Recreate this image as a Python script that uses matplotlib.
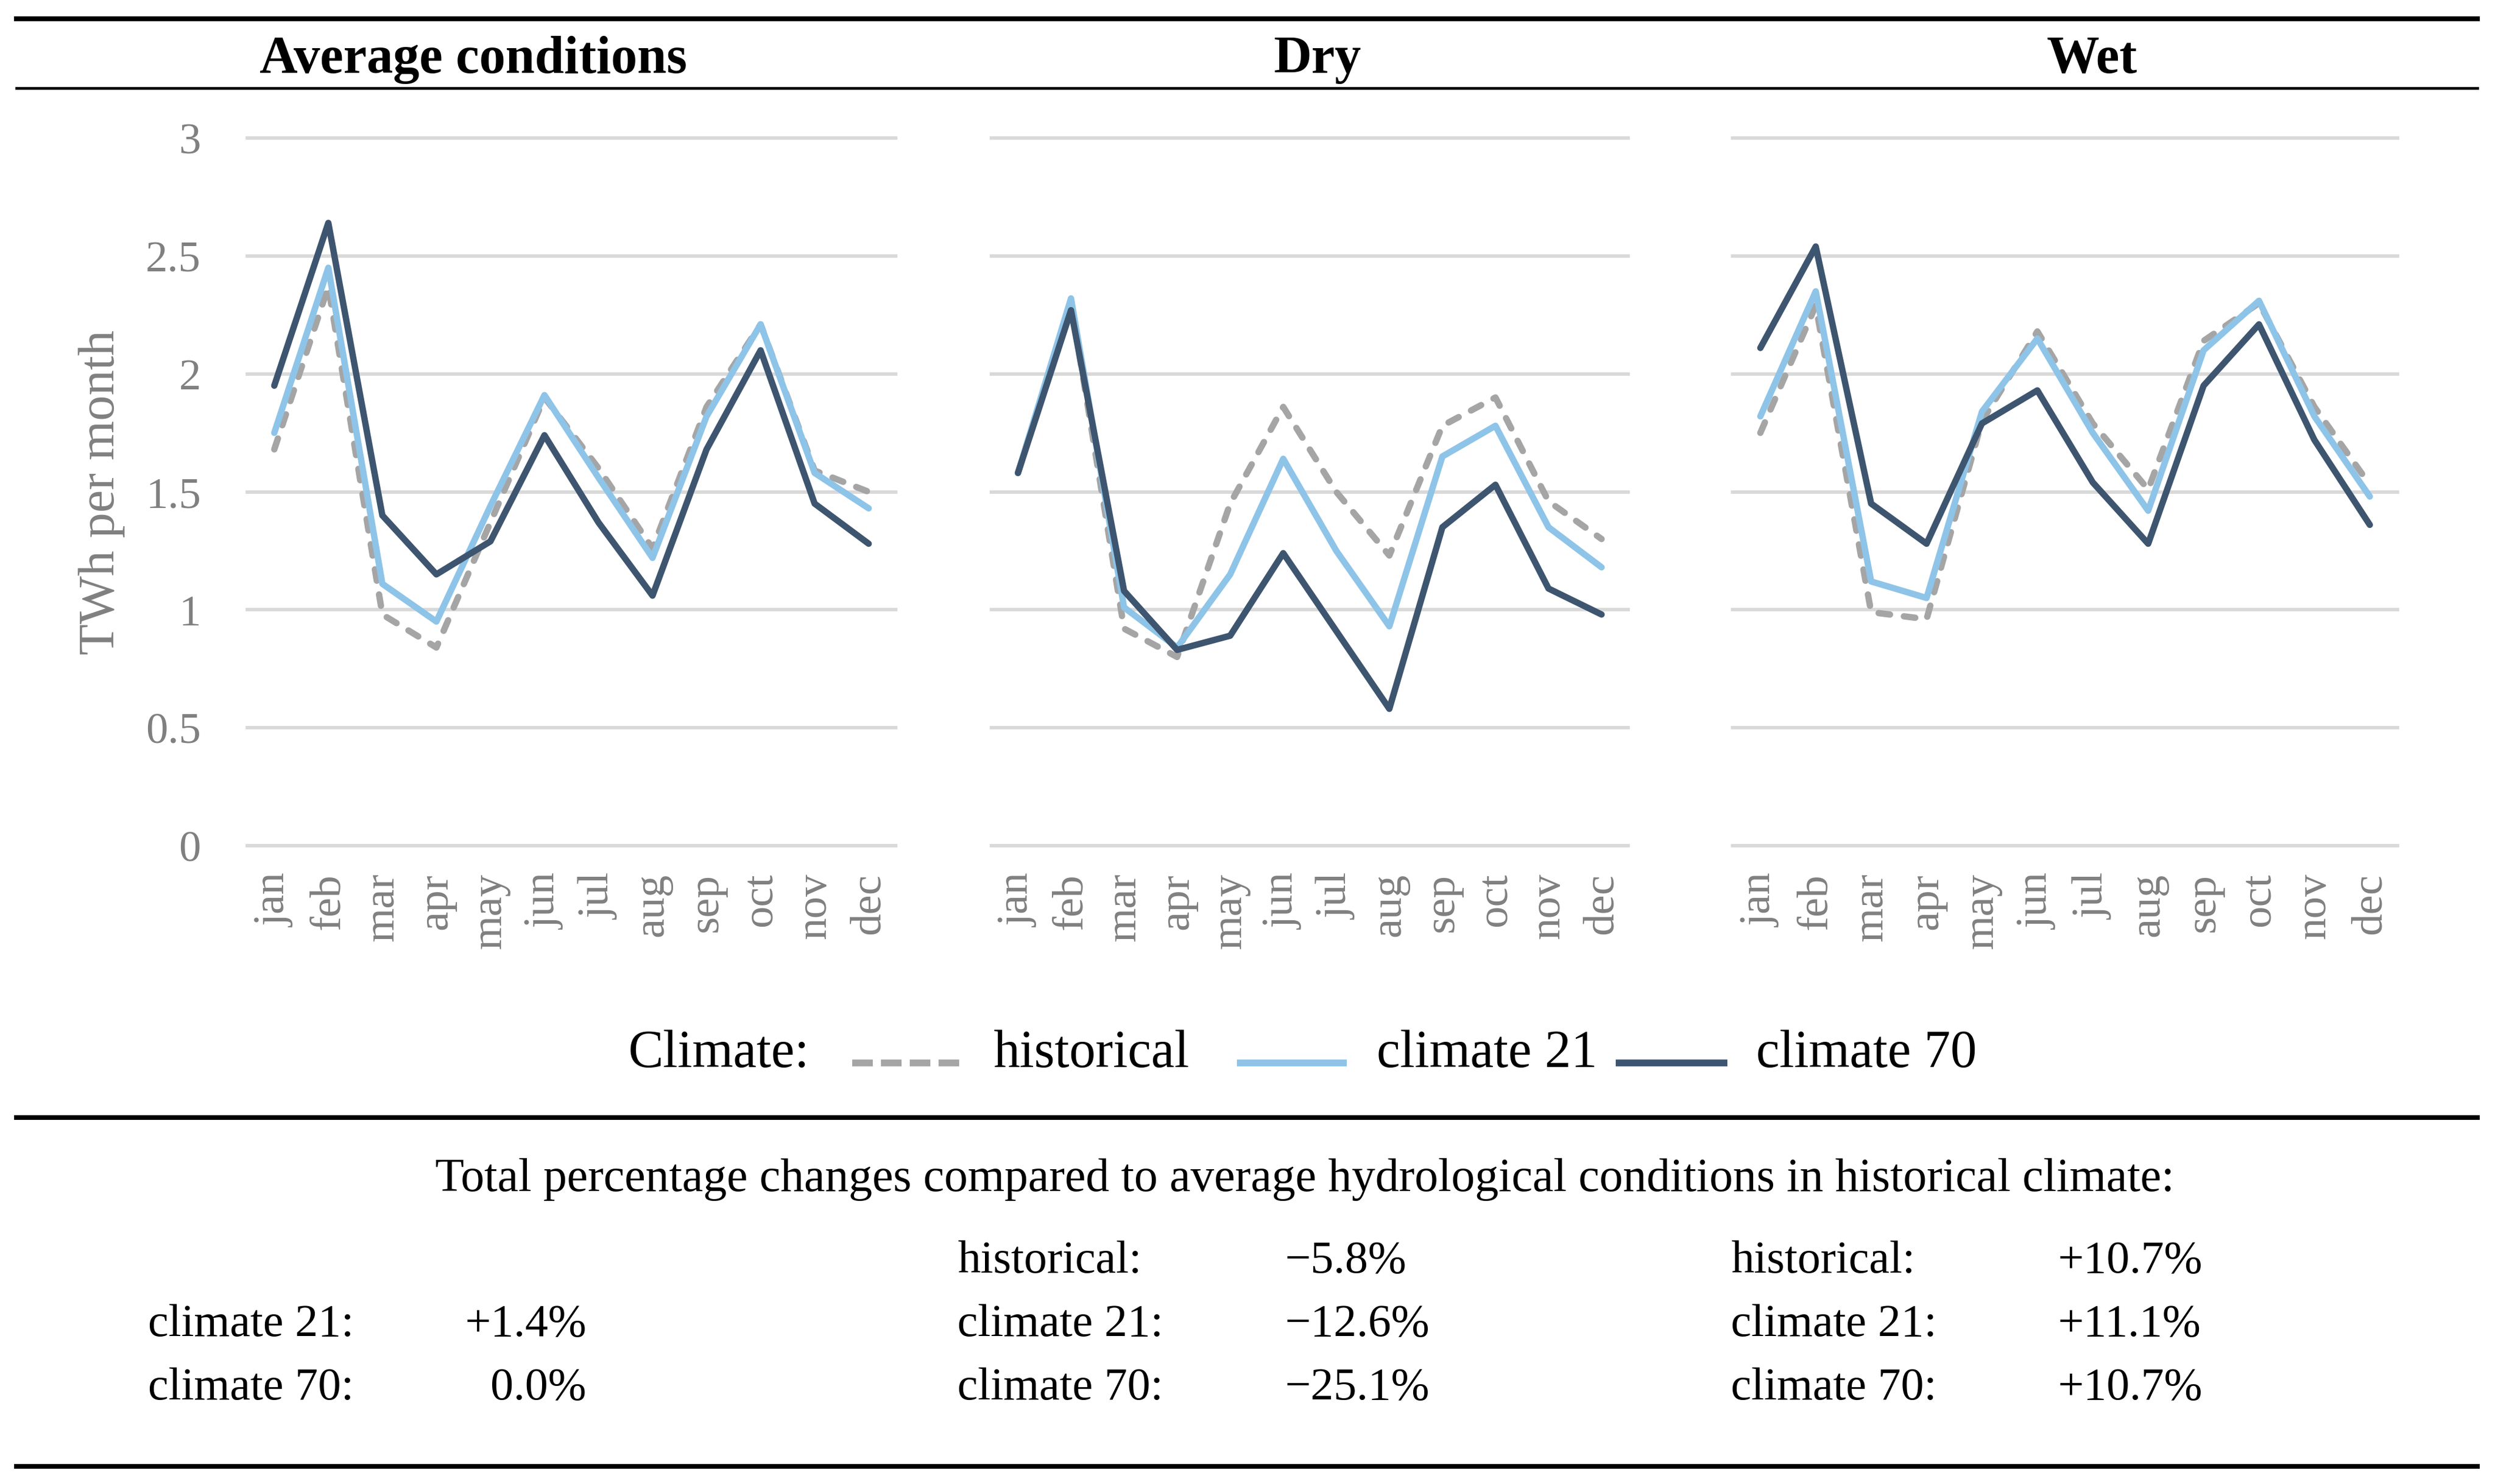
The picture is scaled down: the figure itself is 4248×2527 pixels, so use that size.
import matplotlib.pyplot as plt
from matplotlib.lines import Line2D
import numpy as np

plt.rcParams['font.family'] = ['Liberation Serif', 'DejaVu Serif']

months = ['jan', 'feb', 'mar', 'apr', 'may', 'jun',
          'jul', 'aug', 'sep', 'oct', 'nov', 'dec']
panel_titles = ['Average conditions', 'Dry', 'Wet']
series_names = ['historical', 'climate 21', 'climate 70']

# TWh per month
avg_hist = [1.68, 2.37, 0.98, 0.84, 1.37, 1.90, 1.60, 1.26, 1.86, 2.21, 1.59, 1.50]
avg_c21 = [1.75, 2.45, 1.11, 0.95, 1.44, 1.91, 1.56, 1.22, 1.82, 2.21, 1.58, 1.43]
avg_c70 = [1.95, 2.64, 1.40, 1.15, 1.29, 1.74, 1.37, 1.06, 1.68, 2.10, 1.45, 1.28]

dry_hist = [1.58, 2.30, 0.92, 0.80, 1.45, 1.86, 1.50, 1.23, 1.78, 1.90, 1.46, 1.30]
dry_c21 = [1.58, 2.32, 1.01, 0.84, 1.15, 1.64, 1.25, 0.93, 1.65, 1.78, 1.35, 1.18]
dry_c70 = [1.58, 2.27, 1.08, 0.83, 0.89, 1.24, 0.91, 0.58, 1.35, 1.53, 1.09, 0.98]

wet_hist = [1.75, 2.29, 0.99, 0.96, 1.80, 2.18, 1.79, 1.51, 2.14, 2.30, 1.86, 1.53]
wet_c21 = [1.82, 2.35, 1.12, 1.05, 1.84, 2.15, 1.75, 1.42, 2.10, 2.31, 1.82, 1.48]
wet_c70 = [2.11, 2.54, 1.45, 1.28, 1.79, 1.93, 1.54, 1.28, 1.95, 2.21, 1.72, 1.36]

panel_data = [[avg_hist, avg_c21, avg_c70],
              [dry_hist, dry_c21, dry_c70],
              [wet_hist, wet_c21, wet_c70]]

# percentage changes table
col_labels = [['climate 21:', 'climate 70:'],
              ['historical:', 'climate 21:', 'climate 70:'],
              ['historical:', 'climate 21:', 'climate 70:']]
col_values = [['+1.4%', '0.0%'],
              ['\u22125.8%', '\u221212.6%', '\u221225.1%'],
              ['+10.7%', '+11.1%', '+10.7%']]

colors = ['#a5a5a5', '#8ec4e8', '#3e5570']
styles = [(0, (1.8, 2.2)), '-', '-']

W, H = 4248, 2528
fig = plt.figure(figsize=(W / 300, H / 300), dpi=300)


def fx(x):
    return x / W


def fy(y):
    return 1 - y / H


# axes boxes in pixels (left, right), shared top/bottom
boxes = [(421, 1525), (1688, 2772), (2950, 4082)]
y_top, y_bot = 236, 1441
title_x = [806, 2243, 3562]

x = np.arange(len(months))
for i, (l, r) in enumerate(boxes):
    ax = fig.add_axes([fx(l), fy(y_bot), (r - l) / W, (y_bot - y_top) / H])
    for j, vals in enumerate(panel_data[i]):
        ax.plot(x, vals, color=colors[j], linestyle=styles[j], lw=2.6,
                solid_joinstyle='round', dash_joinstyle='round',
                solid_capstyle='round', dash_capstyle='round', zorder=3 + j)
    ax.set_xlim(-0.5, 11.5)
    ax.set_ylim(0, 3)
    ax.set_yticks(np.arange(0, 3.01, 0.5))
    ax.set_yticklabels(['0', '0.5', '1', '1.5', '2', '2.5', '3'])
    ax.set_xticks(x)
    ax.set_xticklabels(months, rotation=90)
    ax.grid(axis='y', color='#d9d9d9', lw=1.4)
    for gl in ax.get_ygridlines():
        gl.set_clip_on(False)
    ax.set_axisbelow(True)
    for s in ax.spines.values():
        s.set_visible(False)
    ax.tick_params(axis='both', length=0, labelsize=18, labelcolor='#808080')
    ax.tick_params(axis='y', pad=19)
    ax.tick_params(axis='x', pad=11)
    if i > 0:
        ax.set_yticklabels([])

    fig.text(fx(title_x[i]), fy(124), panel_titles[i], ha='center',
             va='baseline', fontsize=21.5, fontweight='bold')

fig.text(fx(173), fy(838), 'TWh per month', rotation=90, ha='center',
         va='center', fontsize=20.8, color='#808080')

# horizontal rules
for yy, lw in [(32.5, 2.0), (151, 1.1), (1904, 1.9), (2498, 1.9)]:
    fig.add_artist(Line2D([fx(28), fx(4218)], [fy(yy), fy(yy)],
                          color='black', lw=lw))

# legend, drawn by hand
fig.text(fx(1069), fy(1817), 'Climate:', fontsize=21.5, va='baseline')
handle_x = [(1451, 1634), (2106, 2293), (2751, 2941)]
label_x = [1691, 2344, 2990]
for j in range(3):
    a, b = handle_x[j]
    fig.add_artist(Line2D([fx(a), fx(b)], [fy(1811), fy(1811)],
                          color=colors[j], lw=2.8, solid_capstyle='butt',
                          dash_capstyle='butt',
                          linestyle=(0, (3.0, 1.2)) if j == 0 else '-'))
    fig.text(fx(label_x[j]), fy(1817), series_names[j], fontsize=21.5,
             va='baseline')

# percentage table
fig.text(fx(2222), fy(2028),
         'Total percentage changes compared to average hydrological '
         'conditions in historical climate:',
         fontsize=19.3, ha='center', va='baseline')
row_y = [2167, 2275, 2383]
lab_x = [252, 1630, 2947]
for c in range(3):
    rows = row_y[1:] if c == 0 else row_y
    for k, yy in enumerate(rows):
        fig.text(fx(lab_x[c]), fy(yy), col_labels[c][k], fontsize=18.8,
                 va='baseline')
        if c == 0:
            fig.text(fx(998), fy(yy), col_values[c][k], fontsize=18.8,
                     va='baseline', ha='right')
        else:
            vx = 2187 if c == 1 else 3503
            fig.text(fx(vx), fy(yy), col_values[c][k], fontsize=18.8,
                     va='baseline')

fig.savefig('out.png', dpi=300)
